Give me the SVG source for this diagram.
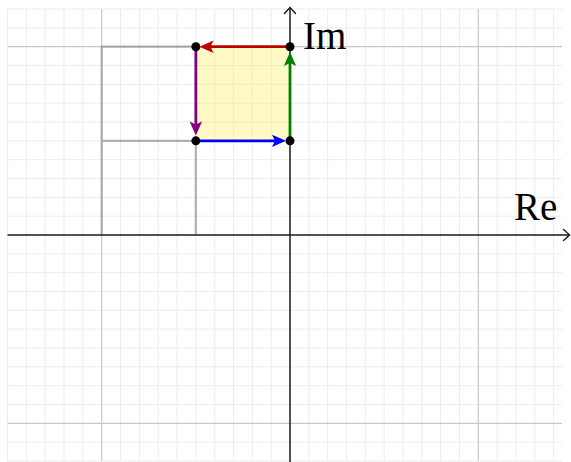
<svg xmlns="http://www.w3.org/2000/svg" width="571" height="462" viewBox="0 0 571 462">
<style>
.minor{stroke:#ececec;stroke-width:1;fill:none}
.major{stroke:#c8c8c8;stroke-width:1.2;fill:none}
.axis{stroke:#1a1a1a;stroke-width:1.5;fill:none}
.gray{stroke:#999;stroke-opacity:0.75;stroke-width:2.2;fill:none}
.vec{stroke-width:2.8;fill:none}
.lbl{font-family:"Liberation Serif","DejaVu Serif",serif;font-size:39px;fill:#000}
.dot{fill:#000}
</style>
<defs>
<marker id="open" markerUnits="userSpaceOnUse" markerWidth="14" markerHeight="14" refX="0" refY="0" viewBox="-8 -7 10 14" orient="auto" overflow="visible">
<path d="M-6,-5.5 Q-1.5,-1.5 0,0 Q-1.5,1.5 -6,5.5" stroke="#1a1a1a" stroke-width="1.4" fill="none" stroke-linecap="round"/>
</marker>
<marker id="hr" markerUnits="userSpaceOnUse" overflow="visible" orient="auto" refX="0" refY="0" markerWidth="1" markerHeight="1"><path d="M-3,0 L-6,-6.2 L8,0 L-6,6.2 Z" fill="#c00000"/></marker>
<marker id="hg" markerUnits="userSpaceOnUse" overflow="visible" orient="auto" refX="0" refY="0" markerWidth="1" markerHeight="1"><path d="M-3,0 L-6,-6.2 L8,0 L-6,6.2 Z" fill="#008000"/></marker>
<marker id="hb" markerUnits="userSpaceOnUse" overflow="visible" orient="auto" refX="0" refY="0" markerWidth="1" markerHeight="1"><path d="M-3,0 L-6,-6.2 L8,0 L-6,6.2 Z" fill="#0000ff"/></marker>
<marker id="hp" markerUnits="userSpaceOnUse" overflow="visible" orient="auto" refX="0" refY="0" markerWidth="1" markerHeight="1"><path d="M-3,0 L-6,-6.2 L8,0 L-6,6.2 Z" fill="#800080"/></marker>
</defs>
<rect width="571" height="462" fill="#fff"/>
<g id="grid">
<path class="minor" d="M7.55,9V461M26.38,9V461M45.21,9V461M64.04,9V461M82.87,9V461M120.53,9V461M139.36,9V461M158.19,9V461M177.02,9V461M195.85,9V461M214.68,9V461M233.51,9V461M252.34,9V461M271.17,9V461M308.83,9V461M327.66,9V461M346.49,9V461M365.32,9V461M384.15,9V461M402.98,9V461M421.81,9V461M440.64,9V461M459.47,9V461M497.13,9V461M515.96,9V461M534.79,9V461M553.62,9V461"/>
<path class="minor" d="M7.55,9.04H562M7.55,27.87H562M7.55,65.53H562M7.55,84.36H562M7.55,103.19H562M7.55,122.02H562M7.55,140.85H562M7.55,159.68H562M7.55,178.51H562M7.55,197.34H562M7.55,216.17H562M7.55,253.83H562M7.55,272.66H562M7.55,291.49H562M7.55,310.32H562M7.55,329.15H562M7.55,347.98H562M7.55,366.81H562M7.55,385.64H562M7.55,404.47H562M7.55,442.13H562M7.55,460.96H562"/>
<path class="major" d="M101.7,9V461M478.3,9V461M7.55,46.7H562M7.55,423.3H562"/>
</g>
<g id="gray-rects">
<path class="gray" d="M101.7,235V46.7H195.85M101.7,140.85H195.85V235"/>
</g>
<g id="square">
<rect x="195.85" y="46.7" width="94.15" height="94.15" fill="#ffee58" fill-opacity="0.35"/>
</g>
<g id="axes">
<path class="axis" d="M7.5,235H569.5" marker-end="url(#open)"/>
<path class="axis" d="M290,462V7.5" marker-end="url(#open)"/>
<text class="lbl" x="303" y="49">Im</text>
<text class="lbl" x="514" y="219.5">Re</text>
</g>
<g id="connectors">
<path class="vec" stroke="#c00000" d="M290,46.7H207.5" marker-end="url(#hr)"/>
<path class="vec" stroke="#008000" d="M290,140.85V60" marker-end="url(#hg)"/>
<path class="vec" stroke="#800080" d="M195.85,46.7V127.5" marker-end="url(#hp)"/>
<path class="vec" stroke="#0000ff" d="M195.85,140.85H278" marker-end="url(#hb)"/>
</g>
<g id="points">
<circle id="pA" class="dot" cx="195.85" cy="46.7" r="4.5"/>
<circle id="pB" class="dot" cx="290" cy="46.7" r="4.5"/>
<circle id="pC" class="dot" cx="290" cy="140.85" r="4.5"/>
<circle id="pD" class="dot" cx="195.85" cy="140.85" r="4.5"/>
</g>
</svg>
